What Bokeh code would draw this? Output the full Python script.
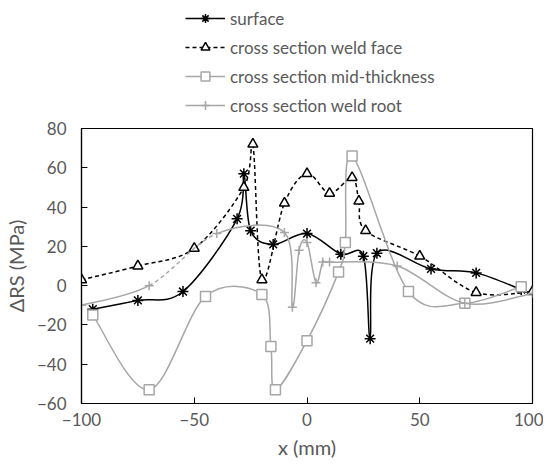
from bokeh.plotting import figure
from bokeh.layouts import column
from bokeh.models import ColumnDataSource, Legend, LegendItem, FixedTicker, Range1d
from bokeh.embed import file_html
from bokeh.resources import INLINE

# ---- data ----
surface_x = [-95, -75, -55, -31, -28, -25, -15, 0, 15, 25, 28, 31, 55, 75, 95]
surface_y = [-12, -7.5, -3, 34, 57, 28, 21, 26.5, 16, 15, -27, 16.5, 8.5, 6.5, -2]

face_x = [-100, -75, -50, -28, -24, -20, -10, 0, 10, 20, 23, 26, 50, 75, 100]
face_y = [3, 10, 19, 50, 72, 3, 42, 57, 47, 55, 43, 28, 15, -3.5, -3]

mid_x = [-95, -70, -45, -20, -16, -14, 0, 14, 17, 20, 45, 70, 95]
mid_y = [-15, -53, -5.5, -4.5, -31, -53, -28, 7, 22, 66, -3, -9, -0.5]

root_x = [-100, -70, -40, -10, -6.5, -3.5, 0, 4, 7, 10, 40, 70, 100]
root_y = [-10, 0, 26.5, 27, -11, 18, 22, 1.5, 12, 12, 10, -9, -4]
root_dashed_segments = [1]  # segment from -70 to -40 drawn dashed

series_labels = ["surface", "cross section weld face",
                 "cross section mid-thickness", "cross section weld root"]

x_ticks = [-100, -50, 0, 50, 100]
x_tick_labels = ["\u2212100", "\u221250", "0", "50", "100"]
y_ticks = [-60, -40, -20, 0, 20, 40, 60, 80]
y_tick_labels = ["\u221260", "\u221240", "\u221220", "0", "20", "40", "60", "80"]

BLACK = "#000000"
GREY = "#a6a6a6"
TEXT = "#595959"
FONT = "Lato"

# series styles: (line colour, dash, marker, marker size, marker fill)
styles = [
    (BLACK, "solid", "asterisk", 11, None),
    (BLACK, "4 3", "triangle", 10, "white"),
    (GREY, "solid", "square", 10, "white"),
    (GREY, "solid", "cross", 9, None),
]


def smooth_segments(xs, ys, keep=None):
    """Excel-like smoothed line: one cubic Bezier per segment between data points."""
    n = len(xs)
    d = dict(x0=[], y0=[], x1=[], y1=[], cx0=[], cy0=[], cx1=[], cy1=[])
    for i in range(n - 1):
        if keep is not None and i not in keep:
            continue
        a = max(i - 1, 0)
        b = min(i + 2, n - 1)
        x1, y1, x2, y2 = xs[i], ys[i], xs[i + 1], ys[i + 1]
        d["x0"].append(x1); d["y0"].append(y1)
        d["x1"].append(x2); d["y1"].append(y2)
        d["cx0"].append(x1 + (x2 - xs[a]) / 6.0)
        d["cy0"].append(y1 + (y2 - ys[a]) / 6.0)
        d["cx1"].append(x2 - (xs[b] - x1) / 6.0)
        d["cy1"].append(y2 - (ys[b] - y1) / 6.0)
    return ColumnDataSource(d)


# ---------------- main chart ----------------
p = figure(frame_width=451, frame_height=275,
           x_range=Range1d(-100, 100), y_range=Range1d(-60, 80),
           output_backend="svg", toolbar_location=None,
           min_border_left=80, min_border_right=11,
           min_border_top=12, min_border_bottom=64)
p.background_fill_color = "white"
p.border_fill_color = "white"
p.outline_line_color = BLACK
p.outline_line_width = 1.2
p.xgrid.visible = False
p.ygrid.visible = False

for ax in (p.xaxis[0], p.yaxis[0]):
    ax.axis_line_color = BLACK
    ax.axis_line_width = 1.2
    ax.major_tick_line_color = BLACK
    ax.major_tick_in = 6
    ax.major_tick_out = 0
    ax.minor_tick_line_color = None
    ax.major_label_text_font = FONT
    ax.major_label_text_font_size = "17px"
    ax.major_label_text_color = TEXT
    ax.axis_label_text_font = FONT
    ax.axis_label_text_font_size = "20px"
    ax.axis_label_text_color = TEXT
    ax.axis_label_text_font_style = "normal"

p.xaxis.ticker = FixedTicker(ticks=x_ticks)
p.xaxis.major_label_overrides = dict(zip(x_ticks, x_tick_labels))
p.yaxis.ticker = FixedTicker(ticks=y_ticks)
p.yaxis.major_label_overrides = dict(zip(y_ticks, y_tick_labels))
p.xaxis.axis_label = "x (mm)"
p.yaxis.axis_label = "\u0394RS (MPa)"
p.xaxis.major_label_standoff = 9
p.yaxis.major_label_standoff = 15
p.xaxis.axis_label_standoff = 6
p.yaxis.axis_label_standoff = 6

bez = dict(x0="x0", y0="y0", x1="x1", y1="y1", cx0="cx0", cy0="cy0", cx1="cx1", cy1="cy1")
all_x = [surface_x, face_x, mid_x, root_x]
all_y = [surface_y, face_y, mid_y, root_y]

for k, (xs, ys) in enumerate(zip(all_x, all_y)):
    color, dash, marker, msize, mfill = styles[k]
    if k == 3:
        solid_keep = [i for i in range(len(xs) - 1) if i not in root_dashed_segments]
        p.bezier(source=smooth_segments(xs, ys, keep=solid_keep), line_color=color,
                 line_width=1.5, **bez)
        p.bezier(source=smooth_segments(xs, ys, keep=root_dashed_segments), line_color=color,
                 line_width=1.5, line_dash="4 3", **bez)
    else:
        p.bezier(source=smooth_segments(xs, ys), line_color=color, line_width=1.5,
                 line_dash=dash, **bez)
    if mfill is None:
        p.scatter(xs, ys, marker=marker, size=msize, line_color=color, line_width=1.5)
    else:
        p.scatter(xs, ys, marker=marker, size=msize, line_color=color, line_width=1.5,
                  fill_color=mfill)

# ---------------- legend strip above the chart ----------------
lg = figure(width=542, height=116, x_range=Range1d(0, 1), y_range=Range1d(0, 1),
            output_backend="svg", toolbar_location=None,
            x_axis_type=None, y_axis_type=None, min_border=0)
lg.outline_line_color = None
lg.xgrid.visible = False
lg.ygrid.visible = False
items = []
for k, label in enumerate(series_labels):
    color, dash, marker, msize, mfill = styles[k]
    # legend-only renderers: a point far outside this strip's visible range
    lr = lg.line(x=[-5, -4], y=[-5, -5], line_color=color, line_width=1.5, line_dash=dash)
    if mfill is None:
        mr = lg.scatter(x=[-5], y=[-5], marker=marker, size=msize, line_color=color,
                        line_width=1.5)
    else:
        mr = lg.scatter(x=[-5], y=[-5], marker=marker, size=msize, line_color=color,
                        line_width=1.5, fill_color=mfill)
    items.append(LegendItem(label=label, renderers=[lr, mr]))

legend = Legend(items=items, location=(104, 0))
legend.border_line_alpha = 0
legend.background_fill_alpha = 0
legend.padding = 0
legend.margin = 0
legend.spacing = 7
legend.glyph_width = 40
legend.glyph_height = 22
legend.label_standoff = 5
legend.label_text_font = FONT
legend.label_text_font_size = "17px"
legend.label_text_color = TEXT
lg.add_layout(legend, "center")

layout = column(lg, p, spacing=0)
open("out.html", "w").write(file_html(layout, INLINE))
